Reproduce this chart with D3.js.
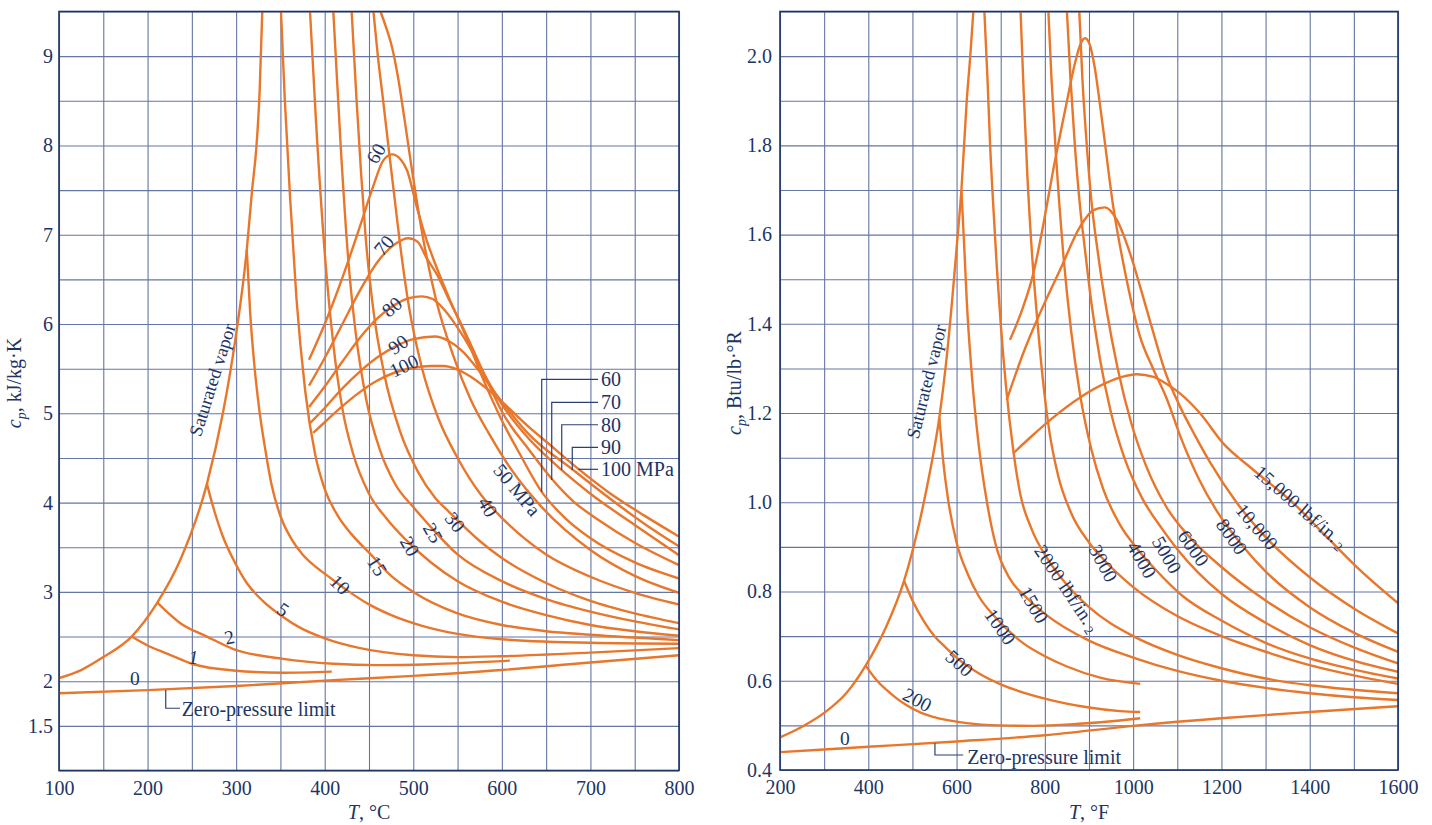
<!DOCTYPE html>
<html><head><meta charset="utf-8">
<script src="https://cdn.jsdelivr.net/npm/d3@7"></script>
<style>
body{margin:0;background:#fff}
text{font-family:"Liberation Serif","Times New Roman",serif;fill:#1d3565}
</style></head>
<body><svg id="chart" width="1432" height="825"></svg>
<script>
// ---------------- LEFT PANEL DATA (T in °C, cp in kJ/kg·K) ----------------
const siXTicks = [100,200,300,400,500,600,700,800];
const siYTicks = [1.5,2,3,4,5,6,7,8,9];
const siXGrid = [100,150,200,250,300,350,400,450,500,550,600,650,700,750,800];
const siYGrid = [1,1.5,2,2.5,3,3.5,4,4.5,5,5.5,6,6.5,7,7.5,8,8.5,9,9.5];

const siSat = [[100,2.035],[125,2.125],[150,2.27],[182,2.5],[211,2.88],[237,3.36],[267,4.21],[285,5.0],[299,5.82],[312,6.83],[318,7.5],[323,8.0],[326.5,8.6],[329.5,9.5]];
const si0   = [[100,1.865],[200,1.9],[300,1.946],[400,2.006],[500,2.06],[600,2.125],[700,2.21],[800,2.29]];
const si1   = [[182,2.5],[200,2.4],[222,2.31],[252,2.19],[297,2.12],[353,2.095],[408,2.107]];
const si2   = [[211,2.88],[237,2.65],[267,2.5],[297,2.36],[353,2.25],[410,2.195],[460,2.18],[520,2.19],[609,2.23]];
const si5   = [[267,4.21],[275,3.92],[285,3.62],[297,3.36],[312,3.1],[330,2.9],[353,2.72],[372,2.6],[400,2.48],[440,2.37],[500,2.29],[550,2.27],[600,2.28],[700,2.32],[800,2.37]];
const si10  = [[312,6.83],[316,6.1],[320,5.6],[326,5.05],[333,4.59],[340,4.2],[350,3.85],[362,3.6],[375,3.42],[390,3.28],[406,3.16],[425,3.02],[450,2.86],[480,2.72],[510,2.62],[550,2.53],[600,2.47],[700,2.43],[800,2.42]];
const si15  = [[350.6,9.5],[355,8.5],[361,7.4],[368,6.3],[378,5.25],[389,4.55],[400,4.15],[415,3.85],[430,3.65],[452,3.42],[475,3.18],[500,3.0],[550,2.76],[600,2.63],[650,2.56],[700,2.52],[800,2.46]];
const si20  = [[383.4,9.5],[390,8.3],[400,6.8],[410,5.75],[420,5.05],[432,4.55],[450,4.1],[470,3.82],[490,3.6],[520,3.33],[550,3.12],[600,2.89],[650,2.74],[700,2.63],[750,2.56],[800,2.51]];
const si25  = [[409.7,9.5],[418,8.0],[426.6,6.72],[435,5.9],[447,5.15],[462,4.6],[480,4.2],[500,3.95],[515,3.78],[550,3.42],[600,3.12],[650,2.92],[700,2.78],[750,2.67],[800,2.58]];
const si30  = [[430.4,9.5],[436,8.5],[441,7.7],[446,7.0],[455,6.15],[467,5.45],[485,4.8],[505,4.35],[525,4.05],[540,3.9],[575,3.57],[600,3.38],[650,3.1],[700,2.9],[750,2.76],[800,2.65]];
const si40  = [[455,9.5],[460,9.0],[466,8.5],[473,7.9],[479,7.4],[485,6.9],[495,6.2],[510,5.5],[528,4.95],[550,4.5],[577,4.08],[600,3.83],[650,3.42],[700,3.17],[750,2.99],[800,2.86]];
const si50  = [[463,9.5],[469,9.33],[476,9.1],[483,8.75],[490,8.3],[498,7.76],[510,7.02],[525,6.3],[545,5.65],[565,5.15],[585,4.78],[610,4.38],[645,3.95],[700,3.47],[750,3.18],[800,2.99]];
const si60  = [[382.3,5.6],[400,6.0],[420,6.52],[440,7.1],[455,7.55],[466,7.83],[476,7.9],[486,7.84],[493,7.72],[504,7.31],[515,6.94],[523,6.72],[540,6.3],[560,5.85],[579,5.38],[600,4.92],[620,4.55],[645,4.12],[670,3.84],[700,3.6],[750,3.33],[800,3.15]];
const si70  = [[382.3,5.31],[400,5.62],[420,6.0],[440,6.38],[460,6.7],[480,6.9],[494.4,6.96],[505,6.92],[515,6.74],[527,6.55],[540,6.28],[555,5.98],[570,5.66],[585,5.33],[600,5.02],[630,4.6],[656,4.27],[680,4.02],[710,3.8],[750,3.55],[800,3.3]];
const si80  = [[382.3,5.07],[400,5.3],[420,5.58],[440,5.85],[460,6.07],[480,6.22],[495,6.29],[509.6,6.31],[522,6.28],[535,6.16],[550,5.96],[565,5.72],[580,5.44],[600,5.1],[630,4.72],[667,4.37],[700,4.1],[750,3.75],[800,3.41]];
const si90  = [[383.4,4.89],[400,5.06],[420,5.28],[440,5.47],[460,5.63],[480,5.75],[500,5.83],[524.5,5.86],[540,5.81],[555,5.7],[570,5.53],[585,5.33],[600,5.13],[630,4.77],[680,4.37],[720,4.06],[760,3.77],[800,3.51]];
const si100 = [[387,4.78],[400,4.9],[420,5.08],[440,5.24],[460,5.37],[480,5.46],[500,5.51],[520,5.53],[534,5.53],[550,5.49],[565,5.41],[580,5.3],[600,5.13],[630,4.85],[660,4.6],[686,4.38],[720,4.12],[760,3.86],[800,3.62]];

// curve labels: [text, T, cp, rotation]
const siCurveLabels = [
  ["0",185.8,2.03,0],["1",251.6,2.27,0],["2",292.3,2.49,-12],["5",353,2.8,35],
  ["10",417,3.08,45],["15",459,3.29,58],["20",496,3.51,60],["25",522,3.66,60],
  ["30",547,3.78,52],["40",584,3.95,60],["50 MPa",617,4.14,50],
  ["60",458,7.91,-60],["70",467,6.88,-50],["80",476,6.19,-40],["90",483,5.77,-35],["100",489.5,5.53,-25]
];
// right-hand bracket labels: [text, T of vertical, cp of horizontal, cp end of vertical]
const siBracketLabels = [
  ["60",645,5.381,4.122],["70",656.3,5.123,4.253],["80",667.6,4.872,4.365],["90",679.5,4.619,4.365],["100 MPa",686.3,4.373,4.373]
];
const siBracketRight = 708.6, siBracketText = 712;
const siZeroLeader = [[220.5,1.901],[220.5,1.697],[236.6,1.697]];
const siZeroText = [238.5,1.689];
const siSatText = [273.5,5.373,-72.5];

// ---------------- RIGHT PANEL DATA (T in °F, cp in Btu/lb·°R) ----------------
const enXTicks = [200,400,600,800,1000,1200,1400,1600];
const enYTicks = [0.4,0.6,0.8,1.0,1.2,1.4,1.6,1.8,2.0];
const enXGrid = [200,300,400,500,600,700,800,900,1000,1100,1200,1300,1400,1500,1600];
const enYGrid = [0.4,0.5,0.6,0.7,0.8,0.9,1.0,1.1,1.2,1.3,1.4,1.5,1.6,1.7,1.8,1.9,2.0,2.1];

const enSat   = [[200,0.473],[250,0.497],[300,0.528],[350,0.572],[394,0.634],[440,0.72],[481,0.824],[517,0.96],[540,1.07],[561,1.19],[576,1.31],[590,1.453],[601,1.58],[611,1.7],[623,1.9],[631,2.0],[638,2.1]];
const en0     = [[200,0.44],[400,0.452],[600,0.464],[800,0.478],[1000,0.499],[1200,0.516],[1400,0.53],[1600,0.543]];
const en200   = [[394,0.634],[420,0.6],[442,0.579],[465,0.56],[487,0.545],[520,0.528],[547,0.519],[623,0.505],[698,0.5],[773,0.499],[870,0.503],[970,0.511],[1016,0.516]];
const en500   = [[481,0.824],[500,0.78],[525,0.735],[550,0.7],[575,0.675],[600,0.652],[650,0.617],[700,0.592],[800,0.56],[900,0.54],[970,0.532],[1016,0.53]];
const en1000  = [[561,1.19],[570,1.09],[581,1.005],[600,0.91],[625,0.84],[650,0.79],[690,0.74],[750,0.685],[800,0.655],[850,0.632],[925,0.607],[1016,0.593]];
const en1500  = [[611,1.7],[618,1.56],[623,1.453],[635,1.28],[650,1.13],[668,1.005],[690,0.9],[720,0.83],[760,0.785],[800,0.75],[900,0.69],[1000,0.652],[1100,0.622],[1200,0.6],[1300,0.584],[1400,0.572],[1500,0.563],[1600,0.557]];
const en2000  = [[663,2.1],[670,1.95],[676,1.8],[684,1.65],[691,1.53],[700,1.4],[712,1.26],[728,1.12],[744,1.02],[770,0.94],[805,0.875],[850,0.815],[900,0.765],[1000,0.7],[1100,0.658],[1200,0.628],[1300,0.605],[1400,0.59],[1500,0.58],[1600,0.572]];
const en3000  = [[745,2.1],[752,1.92],[760,1.74],[770,1.57],[781,1.43],[795,1.28],[810,1.16],[830,1.06],[860,0.975],[900,0.91],[930,0.875],[1000,0.81],[1100,0.745],[1200,0.7],[1300,0.665],[1400,0.635],[1500,0.612],[1600,0.593]];
const en4000  = [[808,2.1],[815,1.95],[825,1.78],[841,1.565],[860,1.38],[880,1.24],[905,1.12],[932,1.03],[970,0.95],[1010,0.895],[1050,0.85],[1112,0.79],[1200,0.735],[1300,0.685],[1400,0.65],[1500,0.625],[1600,0.605]];
const en5000  = [[850,2.1],[858,1.95],[868,1.8],[880,1.66],[891,1.565],[905,1.45],[925,1.32],[950,1.2],[980,1.1],[1020,1.01],[1066,0.94],[1100,0.895],[1200,0.795],[1300,0.73],[1400,0.68],[1500,0.645],[1600,0.62]];
const en6000  = [[878,2.1],[885,1.95],[895,1.8],[905,1.68],[920,1.56],[940,1.43],[965,1.3],[995,1.18],[1030,1.08],[1075,0.99],[1125,0.925],[1200,0.855],[1300,0.78],[1400,0.72],[1500,0.675],[1600,0.639]];
const en8000  = [[721,1.364],[748,1.43],[774,1.513],[797,1.625],[819,1.745],[849,1.894],[866,1.975],[880,2.025],[891,2.04],[902,2.025],[912,1.98],[929,1.86],[955,1.662],[985,1.5],[1016,1.37],[1045,1.3],[1075,1.235],[1110,1.14],[1150,1.05],[1193,0.975],[1250,0.9],[1300,0.845],[1400,0.765],[1500,0.708],[1600,0.665]];
const en10000 = [[713.5,1.229],[751,1.334],[789,1.424],[834,1.52],[880,1.618],[910,1.655],[936,1.661],[963,1.633],[993,1.558],[1016,1.483],[1040,1.4],[1076,1.283],[1106,1.215],[1140,1.15],[1174,1.09],[1234,1.0],[1300,0.922],[1400,0.832],[1500,0.762],[1600,0.706]];
const en15000 = [[728.6,1.11],[770,1.148],[815,1.187],[880,1.235],[940,1.268],[975,1.281],[1008,1.287],[1046,1.281],[1076,1.265],[1106,1.244],[1151,1.2],[1204,1.132],[1272,1.073],[1363,0.998],[1438,0.923],[1514,0.848],[1600,0.774]];

const enCurveLabels = [
  ["0",347,0.471,0],["200",511,0.557,28],["500",606,0.639,42],["1000",698.4,0.721,55],["1500",774,0.77,60],
  ["2000 lbf/in.|2",851,0.807,56],["3000",932,0.863,62],["4000",1019,0.871,60],["5000",1076,0.882,60],
  ["6000",1136,0.897,55],["8000",1223,0.923,55],["10,000",1280,0.945,50],["15,000 lbf/in.|2",1380,0.99,41]
];
const enZeroLeader = [[551,0.46],[551,0.4336],[615,0.4336]];
const enZeroText = [624,0.43];
const enSatText = [532.3,1.27,-76];

// ---------------- DRAWING ----------------
const ORANGE = "#e8772b";
const GRID = "#6476a3";
const FRAME = "#1c3563";
const svg = d3.select("#chart");

function drawPanel(cfg){
  const x = d3.scaleLinear().domain(cfg.xDomain).range(cfg.xRange);
  const y = d3.scaleLinear().domain(cfg.yDomain).range(cfg.yRange);
  const g = svg.append("g");
  const [x0,x1] = cfg.xRange, [yb,yt] = cfg.yRange;

  g.append("clipPath").attr("id",cfg.id).append("rect")
    .attr("x",x0).attr("y",yt).attr("width",x1-x0).attr("height",yb-yt);

  // grid via axes
  const gx = g.append("g").attr("transform",`translate(0,${yb})`)
    .call(d3.axisBottom(x).tickValues(cfg.xGrid).tickSize(-(yb-yt)).tickFormat(""));
  const gy = g.append("g").attr("transform",`translate(${x0},0)`)
    .call(d3.axisLeft(y).tickValues(cfg.yGrid).tickSize(-(x1-x0)).tickFormat(""));
  [gx,gy].forEach(a=>{a.select(".domain").remove();
    a.selectAll("line").attr("stroke",GRID).attr("stroke-width",1.1);});

  // curves
  const line = d3.line().x(d=>x(d[0])).y(d=>y(d[1])).curve(d3.curveMonotoneX);
  g.append("g").attr("clip-path",`url(#${cfg.id})`)
    .selectAll("path").data(cfg.curves).join("path")
    .attr("d",line).attr("fill","none").attr("stroke",ORANGE)
    .attr("stroke-width",2.4).attr("stroke-linejoin","round");

  // frame
  g.append("rect").attr("x",x0).attr("y",yt).attr("width",x1-x0).attr("height",yb-yt)
    .attr("fill","none").attr("stroke",FRAME).attr("stroke-width",1.6);

  // tick labels
  const ax = g.append("g").attr("transform",`translate(0,${yb})`)
    .call(d3.axisBottom(x).tickValues(cfg.xTicks).tickSize(0).tickPadding(10).tickFormat(d3.format("d")));
  const ay = g.append("g").attr("transform",`translate(${x0},0)`)
    .call(d3.axisLeft(y).tickValues(cfg.yTicks).tickSize(0).tickPadding(cfg.yPad).tickFormat(cfg.yFmt));
  [ax,ay].forEach(a=>{a.select(".domain").remove();
    a.selectAll("text").style("font-family","Liberation Serif").style("font-size","20px").attr("fill","#1d3565");});

  // axis titles
  g.append("text").attr("x",(x0+x1)/2).attr("y",819).attr("text-anchor","middle")
    .style("font-size","20px").call(t=>{
      t.append("tspan").style("font-style","italic").text("T");
      t.append("tspan").text(cfg.xUnit);
    });
  const yt2 = g.append("text").attr("transform",`translate(${cfg.yTitleX},383) rotate(-90)`)
    .attr("text-anchor","middle").style("font-size","20px");
  yt2.append("tspan").style("font-style","italic").text("c");
  yt2.append("tspan").style("font-style","italic").style("font-size","14px").attr("dy",5).text("p");
  yt2.append("tspan").attr("dy",-5).text(cfg.yUnit);

  // curve labels
  cfg.labels.forEach(([txt,T,c,rot])=>{
    const t = g.append("text").attr("transform",`translate(${x(T)},${y(c)}) rotate(${rot})`)
      .attr("text-anchor","middle").attr("dominant-baseline","central").style("font-size","19.5px");
    if(txt.includes("|")){
      const [a,b] = txt.split("|");
      t.append("tspan").text(a);
      t.append("tspan").style("font-size","13px").attr("dy",5).text(" "+b);
    } else {
      t.text(txt);
      if(txt==="1") t.style("font-style","italic");
    }
  });

  // zero-pressure limit leader
  const ll = d3.line().x(d=>x(d[0])).y(d=>y(d[1]));
  g.append("path").attr("d",ll(cfg.zeroLeader)).attr("fill","none").attr("stroke","#2a4170").attr("stroke-width",1.2);
  g.append("text").attr("x",x(cfg.zeroText[0])).attr("y",y(cfg.zeroText[1]))
    .attr("dominant-baseline","central").style("font-size","20px").text("Zero-pressure limit");

  // saturated vapor
  g.append("text").attr("transform",`translate(${x(cfg.satText[0])},${y(cfg.satText[1])}) rotate(${cfg.satText[2]})`)
    .attr("text-anchor","middle").attr("dominant-baseline","central").style("font-size","18.5px").text("Saturated vapor");

  return {x,y,g};
}

const L = drawPanel({
  id:"clipL", xDomain:[100,800], xRange:[59,679], yDomain:[1,9.5], yRange:[770.5,11.5],
  xGrid:siXGrid, yGrid:siYGrid, xTicks:siXTicks, yTicks:siYTicks, yPad:6,
  yFmt:d=> (d%1 ? d3.format(".1f")(d) : d3.format("d")(d)),
  curves:[siSat,si0,si1,si2,si5,si10,si15,si20,si25,si30,si40,si50,si60,si70,si80,si90,si100],
  labels:siCurveLabels, zeroLeader:siZeroLeader, zeroText:siZeroText, satText:siSatText,
  xUnit:", °C", yUnit:", kJ/kg·K", yTitleX:21
});

// bracket labels (left panel, right side)
siBracketLabels.forEach(([txt,T,cH,cV],i)=>{
  const pts = (i===4) ? [[T,cV],[siBracketRight,cH]] : [[T,cV],[T,cH],[siBracketRight,cH]];
  L.g.append("path").attr("d",d3.line().x(d=>L.x(d[0])).y(d=>L.y(d[1]))(pts))
    .attr("fill","none").attr("stroke","#2a4170").attr("stroke-width",1.2);
  L.g.append("text").attr("x",L.x(siBracketText)).attr("y",L.y(cH))
    .attr("dominant-baseline","central").style("font-size","20px").text(txt);
});

drawPanel({
  id:"clipR", xDomain:[200,1600], xRange:[780,1398], yDomain:[0.4,2.1], yRange:[770,11.5],
  xGrid:enXGrid, yGrid:enYGrid, xTicks:enXTicks, yTicks:enYTicks, yPad:8,
  yFmt:d3.format(".1f"),
  curves:[enSat,en0,en200,en500,en1000,en1500,en2000,en3000,en4000,en5000,en6000,en8000,en10000,en15000],
  labels:enCurveLabels, zeroLeader:enZeroLeader, zeroText:enZeroText, satText:enSatText,
  xUnit:", °F", yUnit:", Btu/lb·°R", yTitleX:741
});
</script>
</body></html>
